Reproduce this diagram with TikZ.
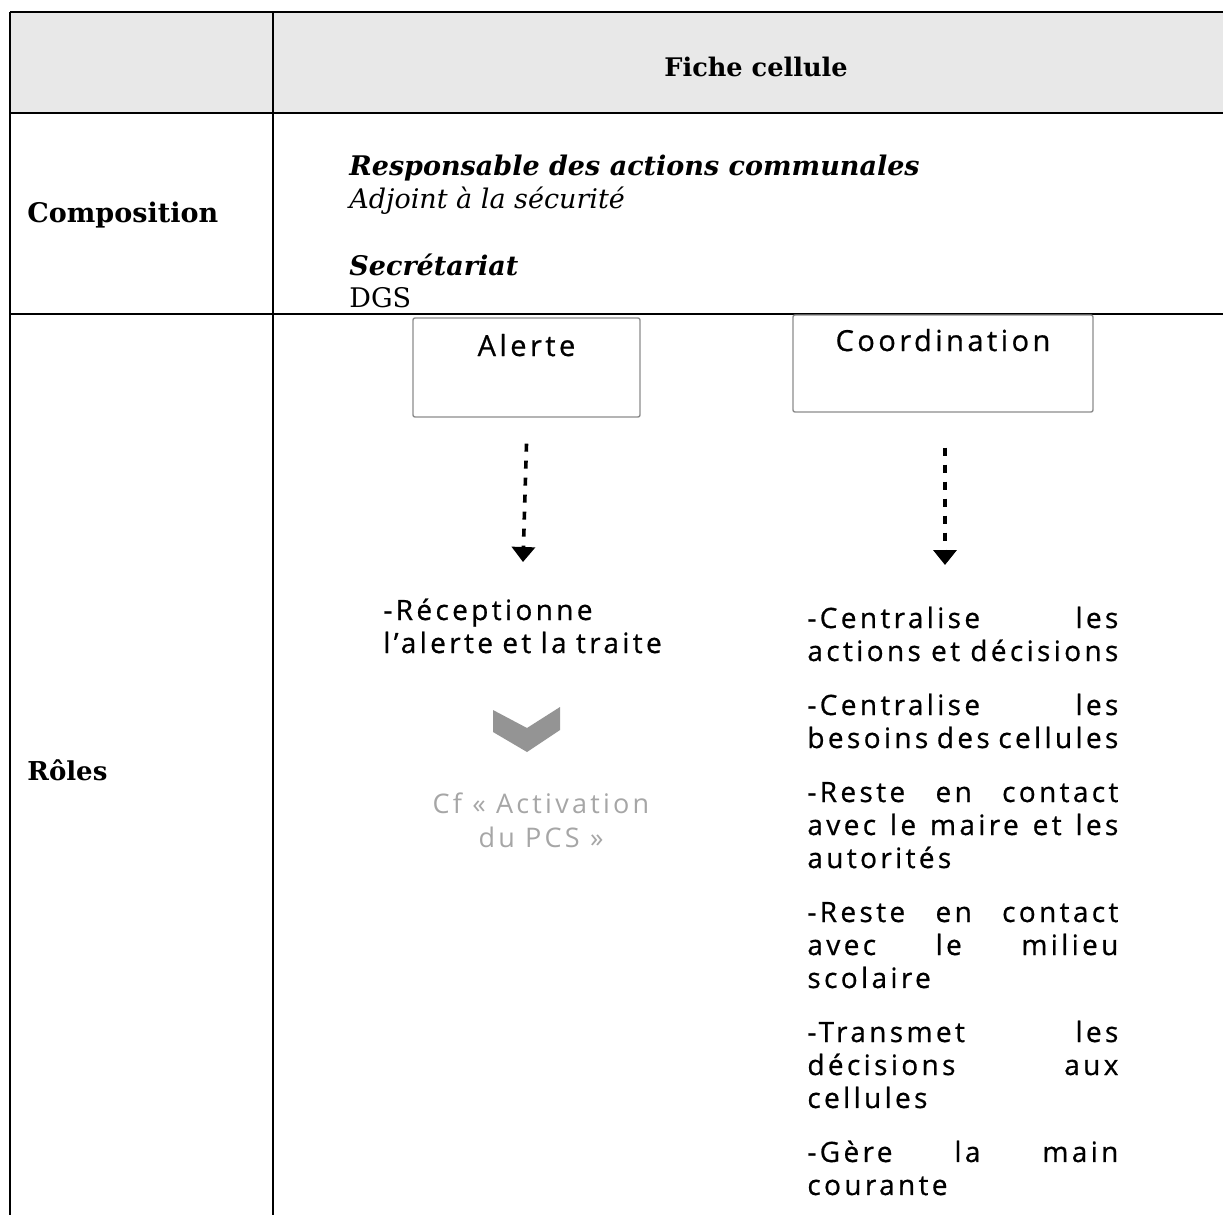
\documentclass[tikz,border=0pt]{standalone}
\usepackage{fontspec}
\setmainfont{DejaVu Serif}
\newfontfamily\rolefont[LetterSpace=12,FakeBold=0.7]{Open Sans}
\newfontfamily\notefont[LetterSpace=12]{Open Sans}
\usetikzlibrary{arrows.meta}
\hyphenpenalty=10000
\tolerance=10000

\begin{document}
\begin{tikzpicture}[x=0.5pt,y=-0.5pt,
    tablerule/.style={line width=0.9pt},
    rolebox/.style={draw=black!45,line width=0.7pt,rounded corners=1pt,inner ysep=0pt,
      text depth=30.5pt,font=\rolefont\fontsize{14.5}{15}\selectfont},
    flow/.style={line width=1.8pt,dash pattern=on 4pt off 4.5pt,
      -{Triangle[width=11.5pt,length=7.5pt]}},
    roletext/.style={inner sep=0pt,anchor=base west,align=justify,
      font=\rolefont\fontsize{14}{16.5}\selectfont}]
  \useasboundingbox (0,0) rectangle (1223,1215);

  % table
  \fill[black!9] (10,12) rectangle (1223,113);
  \draw[tablerule] (10,12) -- (1223,12);
  \draw[tablerule] (10,113) -- (1223,113);
  \draw[tablerule] (10,314) -- (1223,314);
  \draw[tablerule] (10,12) -- (10,1215);
  \draw[tablerule] (273,12) -- (273,1215);

  \node[font=\bfseries\fontsize{12.8}{15}\selectfont] (titre) at (756,67) {Fiche cellule};
  \node[anchor=west,inner sep=0pt,font=\bfseries\fontsize{13.5}{15}\selectfont] (compo) at (27,215) {Composition};
  \node[anchor=west,inner sep=0pt,font=\bfseries\fontsize{13}{15}\selectfont] (roles) at (27,770) {Rôles};

  \node[anchor=base west,inner sep=0pt,font=\bfseries\itshape\fontsize{13.5}{15}\selectfont] (resp) at (349,175) {Responsable des actions communales};
  \node[anchor=base west,inner sep=0pt,font=\itshape\fontsize{13.5}{15}\selectfont] (adjoint) at (349,208) {Adjoint à la sécurité};
  \node[anchor=base west,inner sep=0pt,font=\bfseries\itshape\fontsize{13.5}{15}\selectfont] (secr) at (349,275) {Secrétariat};
  \node[anchor=base west,inner sep=0pt,font=\fontsize{13.5}{15}\selectfont] (dgs) at (349,307) {DGS};

  % roles
  \node[rolebox,minimum width=113.5pt,text height=19pt] (alerte) at (526.5,367.5) {Alerte};
  \node[rolebox,minimum width=150pt,text height=18pt] (coord) at (943,363.5) {Coordination};

  \node[roletext,text width=160pt,align=left] (recep) at (383,620)
    {-Réceptionne\\l’alerte et la traite};

  \fill[black!42] (493,710) -- (527,728) -- (560,707) -- (560,730) -- (527,752) -- (493,732) -- cycle;
  \node[align=center,text=black!35,font=\notefont\fontsize{13.5}{17}\selectfont] (activ) at (541,820)
    {Cf « Activation\\du PCS »};

  \node[roletext,text width=155.5pt] (taches) at (807,628)
    {-Centralise les\linebreak actions et décisions\par\vspace{10.5pt}
     -Centralise les\linebreak besoins des cellules\par\vspace{10.5pt}
     -Reste en contact\linebreak avec le maire et les\linebreak autorités\par\vspace{10.5pt}
     -Reste en contact\linebreak avec le milieu\linebreak scolaire\par\vspace{10.5pt}
     -Transmet les\linebreak décisions aux\linebreak cellules\par\vspace{10.5pt}
     -Gère la main\linebreak courante};

  \coordinate (alerteEnd) at (523,562);
  \coordinate (coordEnd) at (945,565);
  \draw[flow] ([yshift=-13pt]alerte.south) -- (alerteEnd);
  \draw[flow] ([yshift=-17.5pt]coord.south -| coordEnd) -- (coordEnd);
\end{tikzpicture}
\end{document}
